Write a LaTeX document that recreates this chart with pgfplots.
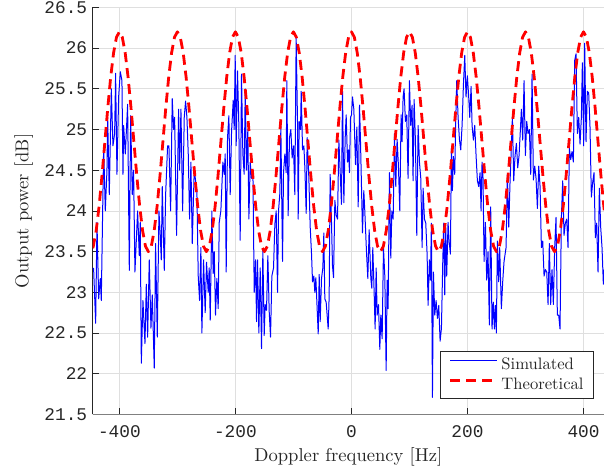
\documentclass[border=0pt]{standalone}
\usepackage{fontspec}
\setmainfont{lmroman10-regular}[Extension=.otf, BoldFont=lmroman10-bold, ItalicFont=lmroman10-italic]
\newfontfamily\monofont{Liberation Mono}
\newcommand\legfont{\fontsize{16.6}{19}\selectfont}
\usepackage{pgfplots}
\pgfplotsset{compat=1.18}
\definecolor{txtgray}{RGB}{38,38,38}
\definecolor{gridgray}{RGB}{223,223,223}
\definecolor{simblue}{RGB}{0,0,255}
\definecolor{thred}{RGB}{255,0,0}
\begin{document}
\begin{tikzpicture}
\begin{axis}[
  scale only axis,
  width=511.3pt, height=407.1pt,
  xmin=-446, xmax=435.3,
  ymin=21.5, ymax=26.5,
  xtick={-400,-200,0,200,400},
  ytick={21.5,22,...,26.5},
  axis lines=left,
  axis line style={-},
  x axis line style={draw=black!50, line width=1.2pt},
  y axis line style={draw=txtgray, line width=0.9pt},
  tick align=inside,
  major tick length=6pt,
  every tick/.style={draw=txtgray, line width=0.8pt},
  grid=major,
  major grid style={draw=gridgray, line width=0.8pt},
  /pgf/number format/assume math mode=true,
  tick label style={font=\monofont\fontsize{17.8}{20}\selectfont, text=txtgray},
  yticklabel style={xshift=-2pt},
  xticklabel style={yshift=-8pt},
  xlabel={Doppler frequency [Hz]},
  ylabel={Output power [dB]},
  every axis x label/.style={at={(axis description cs:0.5,-0.104)}, anchor=center,
    font=\fontsize{18.6}{22}\selectfont, text=txtgray},
  every axis y label/.style={at={(axis description cs:-0.135,0.5)}, rotate=90, anchor=center,
    font=\fontsize{18.6}{22}\selectfont, text=txtgray},
  legend style={at={(axis description cs:1,0)}, anchor=south east, xshift=-10pt, yshift=15.2pt,
    draw=black!85, line width=0.8pt, fill=white,
    inner xsep=8pt, inner ysep=4pt, row sep=1pt,
    nodes={inner sep=2pt, text=txtgray, text height=12pt, text depth=3pt},
    /tikz/every even column/.append style={column sep=1pt},
    /tikz/every odd column/.append style={column sep=1pt}},
  legend cell align=left,
]
\coordinate (sw) at (rel axis cs:0,0);
\coordinate (ne) at (rel axis cs:1,1);
\addplot[color=simblue, line width=1pt, line join=round,
  legend image code/.code={\draw[simblue, line width=1pt] (0pt,5pt) -- (47pt,5pt);}] coordinates {
(-446,23.30) (-444.4,23.29) (-440.9,22.62) (-438.6,23.86) (-435.7,22.92) (-432.9,23.17) (-431.2,22.90)
(-427.1,24.80) (-424.3,24.00) (-421.4,24.50) (-420.2,25.15) (-417.4,24.20) (-413.9,25.50) (-411.1,24.80)
(-408.2,24.95) (-406.5,25.69) (-404.2,24.45) (-401.3,25.40) (-398.4,25.71) (-395.6,25.60) (-393.8,24.45)
(-392.7,25.05) (-389.8,24.70) (-385.8,25.31) (-382.9,23.27) (-380.6,25.17) (-377.8,24.20) (-375.5,24.50)
(-373.2,23.25) (-368.6,24.00) (-365.7,23.45) (-364.0,23.86) (-362.2,22.13) (-359.4,22.90) (-355.9,22.37)
(-353.6,23.10) (-351.3,22.45) (-348.5,23.40) (-345.6,22.56) (-343.3,22.97) (-339.9,22.07) (-337.6,23.60)
(-334.7,22.45) (-331.8,24.00) (-329.5,23.70) (-327.8,23.40) (-326.1,24.30) (-322.6,23.27) (-320.3,24.20)
(-316.9,24.80) (-314.6,24.80) (-311.7,24.00) (-308.9,25.38) (-306.6,25.00) (-304.8,25.15) (-301.4,23.70)
(-297.9,25.25) (-296.2,24.50) (-293.9,25.25) (-291.0,24.00) (-288.2,25.15) (-285.9,25.35) (-283.6,25.15)
(-281.3,24.70) (-279.0,23.90) (-276.7,24.60) (-274.4,23.60)
(-271.0,24.50) (-266.4,24.25) (-264.1,23.20) (-261.8,22.90) (-259.5,23.55) (-257.8,22.50) (-254.9,23.40)
(-252.1,22.75) (-249.8,23.37) (-246.9,23.00) (-245.2,23.30) (-243.4,22.66) (-240.6,24.00) (-238.3,23.23)
(-236.5,23.50) (-234.3,22.72) (-232.0,23.17) (-229.7,22.80) (-227.9,23.86) (-225.1,24.00) (-221.6,24.60)
(-219.3,24.45) (-217.6,24.70) (-215.9,23.25) (-213.6,24.90) (-211.3,25.17) (-209.0,24.20) (-206.7,24.97)
(-203.8,25.36) (-202.1,25.00) (-200.4,25.91) (-198.7,24.80) (-196.4,25.72) (-194.1,25.05) (-191.8,23.64)
(-189.5,25.68) (-187.2,24.70) (-184.9,24.45) (-183.1,25.50) (-180.9,24.50) (-178.6,25.00) (-176.8,23.90)
(-174.5,24.60) (-172.2,24.40) (-169.9,24.50) (-167.6,23.00) (-165.3,23.40) (-163.6,22.64) (-161.9,23.40)
(-159.6,22.50) (-157.3,23.30) (-155.0,22.31) (-152.7,23.52) (-150.4,22.47) (-148.7,22.85) (-146.4,22.78)
(-144.1,23.45) (-141.8,22.77) (-139.5,22.45) (-137.2,23.20) (-134.3,23.30) (-132.0,23.84) (-129.7,24.00)
(-127.4,23.00) (-125.7,24.00) (-123.4,24.22) (-121.7,25.04) (-118.8,23.38) (-117.1,24.47) (-114.8,24.70)
(-112.5,24.47) (-111.4,25.60) (-109.1,23.94) (-106.8,24.90) (-104.5,25.00) (-102.2,24.65) (-99.9,24.80)
(-97.6,24.20) (-95.3,26.13) (-93.0,25.10)
(-91.8,23.90) (-90.1,25.10) (-87.8,25.00) (-86.6,25.47) (-84.3,24.75) (-82.0,24.80) (-80.3,24.53)
(-78.0,23.97) (-76.3,24.90) (-73.4,24.40) (-71.1,23.80) (-68.8,23.47) (-67.1,23.13) (-64.8,23.20)
(-63.1,23.00) (-61.4,23.18) (-59.6,22.88) (-57.3,22.49) (-55.6,23.22) (-53.9,22.64) (-51.6,23.17)
(-49.3,23.30) (-47.6,23.73) (-45.9,22.92) (-43.6,22.88) (-40.1,22.55) (-38.4,22.96) (-36.7,24.45)
(-34.4,23.86) (-32.7,23.33) (-30.9,23.18) (-28.6,24.13) (-26.3,23.95) (-24.0,23.90) (-21.7,24.87)
(-19.4,24.47) (-17.2,24.08) (-15.4,25.47) (-13.1,24.10) (-10.8,24.90) (-9.1,25.18) (-6.8,24.60)
(-5.1,24.75) (-3.4,24.47) (-1.6,25.15) (0.1,25.18) (1.8,25.40) (4.1,25.25) (7.0,24.57) (9.3,25.03)
(11.6,24.05) (13.9,25.30) (15.6,24.85) (17.3,24.30) (19.0,23.73) (21.3,24.25) (23.0,24.00) (25.9,23.50)
(28.2,23.17) (30.5,23.77) (33.4,23.17) (35.1,23.05) (36.8,23.55) (39.1,23.00) (40.8,22.55) (42.6,23.30)
(44.3,22.72) (46.6,22.85) (48.9,22.30) (50.6,22.72) (52.9,22.43) (55.2,23.55) (57.5,23.20) (59.8,22.04)
(61.5,23.15) (63.2,22.80) (65.5,24.47) (67.8,23.42) (69.6,24.00) (71.9,23.90) (74.1,24.95) (76.4,24.30)
(78.7,24.88) (81.0,24.55) (83.3,24.00) (85.6,25.18)
(87.3,24.85) (89.0,25.40) (90.7,25.50) (93.0,25.10) (95.3,25.18) (97.6,24.40) (99.9,25.60) (102.2,25.05)
(104.5,25.30) (106.2,24.37) (108.0,25.37) (110.3,24.85) (112.6,23.70) (114.9,25.05) (117.2,24.60)
(119.5,24.40) (121.8,23.55) (123.5,24.28) (125.8,23.90) (128.1,23.85) (130.4,23.47) (132.1,22.84)
(134.4,23.40) (136.1,23.15) (137.8,23.85) (139.6,21.71) (141.3,23.25) (143.6,22.72) (145.9,22.90)
(148.2,22.68) (150.5,22.84) (152.8,22.40) (155.1,22.56) (157.4,23.38) (159.1,23.85) (160.8,22.97)
(162.5,23.80) (164.2,23.20) (166.5,23.86) (168.3,23.63) (170.6,23.47) (172.3,24.77) (174.0,24.25)
(175.7,24.67) (178.0,24.45) (179.7,25.10) (181.5,25.60) (183.8,25.15) (186.1,24.88) (188.4,24.75)
(190.7,25.05) (193.0,25.55) (195.3,25.91) (197.5,25.40) (199.8,25.66) (202.1,25.40) (203.9,25.15)
(206.2,25.53) (207.9,25.05) (210.2,24.87) (212.5,25.05) (214.8,24.68) (217.1,24.37) (219.4,24.30)
(221.7,24.47) (223.4,24.00) (225.1,24.60) (226.8,24.40) (228.6,23.38) (230.9,23.86) (233.1,23.15)
(235.4,23.50) (237.7,22.60) (240.0,24.05) (242.3,22.55) (244.6,22.88) (246.4,22.55) (248.1,22.84)
(249.8,22.50) (251.5,23.63) (253.8,23.13) (255.5,23.55) (258.4,22.80) (260.7,23.13) (263.0,23.38)
(266.5,23.55) (268.8,24.45) (271.1,23.80) (273.4,24.37) (275.1,24.68) (277.4,25.15) (279.7,24.37)
(282.0,24.68) (284.3,24.83) (286.6,24.53) (288.9,24.68) (291.2,25.00) (292.9,25.25) (295.2,24.87)
(297.5,25.60) (299.8,24.68) (302.1,25.10) (304.4,24.95) (306.7,25.00) (309.0,24.45) (311.3,25.68)
(313.6,24.38) (315.9,24.55) (318.2,24.40) (320.5,24.03) (322.8,24.55) (325.1,24.30) (327.4,23.55)
(329.7,23.63) (332.0,23.20) (334.3,23.28) (336.6,23.25) (338.9,22.85) (341.1,23.60) (343.4,22.85)
(345.7,23.28) (348.0,22.85) (350.3,23.55) (352.6,23.92) (354.9,22.72) (357.2,22.72) (359.5,22.55)
(361.8,23.90) (364.1,24.37) (366.4,23.70) (368.7,23.85) (371.0,23.90) (373.3,23.55) (375.6,24.77)
(377.9,24.63) (380.2,24.73) (382.5,24.60) (384.8,25.85) (387.1,25.93) (389.4,24.95) (391.7,25.15)
(394.0,24.82) (396.3,25.15) (398.0,25.82) (400.3,24.80) (402.0,26.06) (404.3,24.85) (406.6,25.47)
(408.9,25.45) (411.2,25.03) (413.5,24.17) (415.8,24.35) (418.1,24.47) (420.4,23.67) (422.7,23.85)
(425.0,23.25) (427.3,24.28) (429.6,23.80) (431.9,23.55) (434.2,23.10) (435.3,23.28)
};
\addlegendentry{\legfont Simulated}
\addplot[color=thred, line width=2.8pt, dash pattern=on 10pt off 6pt, line join=round,
  legend image code/.code={\draw[thred, line width=2.8pt, dash pattern=on 10pt off 6pt] (0pt,5pt) -- (47pt,5pt);}] coordinates {
(-446,23.542) (-445,23.566) (-440,23.758) (-435,24.056) (-430,24.433) (-425,24.850) (-420,25.267) (-415,25.644) (-410,25.942) (-405,26.134)
(-400,26.200) (-395,26.134) (-390,25.942) (-385,25.644) (-380,25.267) (-375,24.850) (-370,24.433) (-365,24.056) (-360,23.758) (-355,23.566)
(-350,23.500) (-345,23.566) (-340,23.758) (-335,24.056) (-330,24.433) (-325,24.850) (-320,25.267) (-315,25.644) (-310,25.942) (-305,26.134)
(-300,26.200) (-295,26.134) (-290,25.942) (-285,25.644) (-280,25.267) (-275,24.850) (-270,24.433) (-265,24.056) (-260,23.758) (-255,23.566)
(-250,23.500) (-245,23.566) (-240,23.758) (-235,24.056) (-230,24.433) (-225,24.850) (-220,25.267) (-215,25.644) (-210,25.942) (-205,26.134)
(-200,26.200) (-195,26.134) (-190,25.942) (-185,25.644) (-180,25.267) (-175,24.850) (-170,24.433) (-165,24.056) (-160,23.758) (-155,23.566)
(-150,23.500) (-145,23.566) (-140,23.758) (-135,24.056) (-130,24.433) (-125,24.850) (-120,25.267) (-115,25.644) (-110,25.942) (-105,26.134)
(-100,26.200) (-95,26.134) (-90,25.942) (-85,25.644) (-80,25.267) (-75,24.850) (-70,24.433) (-65,24.056) (-60,23.758) (-55,23.566)
(-50,23.500) (-45,23.566) (-40,23.758) (-35,24.056) (-30,24.433) (-25,24.850) (-20,25.267) (-15,25.644) (-10,25.942) (-5,26.134)
(0,26.200) (5,26.134) (10,25.942) (15,25.644) (20,25.267) (25,24.850) (30,24.433) (35,24.056) (40,23.758) (45,23.566)
(50,23.500) (55,23.566) (60,23.758) (65,24.056) (70,24.433) (75,24.850) (80,25.267) (85,25.644) (90,25.942) (95,26.134)
(100,26.200) (105,26.134) (110,25.942) (115,25.644) (120,25.267) (125,24.850) (130,24.433) (135,24.056) (140,23.758) (145,23.566)
(150,23.500) (155,23.566) (160,23.758) (165,24.056) (170,24.433) (175,24.850) (180,25.267) (185,25.644) (190,25.942) (195,26.134)
(200,26.200) (205,26.134) (210,25.942) (215,25.644) (220,25.267) (225,24.850) (230,24.433) (235,24.056) (240,23.758) (245,23.566)
(250,23.500) (255,23.566) (260,23.758) (265,24.056) (270,24.433) (275,24.850) (280,25.267) (285,25.644) (290,25.942) (295,26.134)
(300,26.200) (305,26.134) (310,25.942) (315,25.644) (320,25.267) (325,24.850) (330,24.433) (335,24.056) (340,23.758) (345,23.566)
(350,23.500) (355,23.566) (360,23.758) (365,24.056) (370,24.433) (375,24.850) (380,25.267) (385,25.644) (390,25.942) (395,26.134)
(400,26.200) (405,26.134) (410,25.942) (415,25.644) (420,25.267) (425,24.850) (430,24.433) (435,24.056) (436,23.990)
};
\addlegendentry{\legfont Theoretical}
\end{axis}
\pgfresetboundingbox
\path[use as bounding box] ([shift={(-92.7pt,-60.5pt)}]sw) rectangle ([shift={(0pt,7.4pt)}]ne);
\end{tikzpicture}
\end{document}
